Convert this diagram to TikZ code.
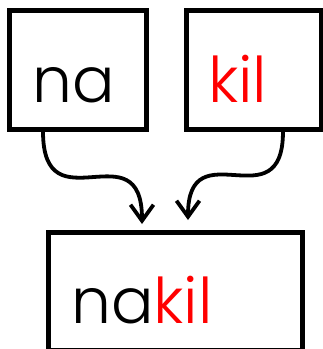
\documentclass[tikz,border=0pt]{standalone}
\usepackage{fontspec}
\setmainfont{Poppins}[UprightFont=* Light]
\usetikzlibrary{positioning,arrows.meta,calc}
\definecolor{stem}{HTML}{000000}
\definecolor{affix}{HTML}{FF0000}
\begin{document}
\begin{tikzpicture}[x=1pt,y=-1pt,
      morph/.style={rectangle,draw=stem,line width=5pt,inner sep=0pt,anchor=north west},
      word/.style={font=\fontsize{63}{63}\selectfont,inner sep=0pt,anchor=base west},
      link/.style={line width=3.8pt,-{Straight Barb[length=16pt,width=23pt,line width=3.8pt]}}]
    \useasboundingbox (0,0) rectangle (323,349);
    \node[morph,minimum width=137pt,minimum height=119pt] (l) at (6.5,7.5) {};
    \node[morph,minimum width=135pt,minimum height=119pt] (r) at (183.5,7.5) {};
    \node[morph,minimum width=254pt,minimum height=118pt] (c) at (46,229.5) {};
    \node[word] (lt) at (32,102) {na};
    \node[word,text=affix] (rt) at (208,102) {kil};
    \node[word] (ct) at (71,323) {na\textcolor{affix}{kil}};
    % landing points on the top edge of the result box
    \coordinate (li) at (142,224);
    \coordinate (ri) at (188,220);
    \draw[link] ($(l.south west)+(36.5,0)$) .. controls +(0,97) and +(0,-97) .. (li);
    \draw[link] ($(r.south west)+(99.5,0)$) .. controls +(0,92) and +(0,-92) .. (ri);
  \end{tikzpicture}
\end{document}
